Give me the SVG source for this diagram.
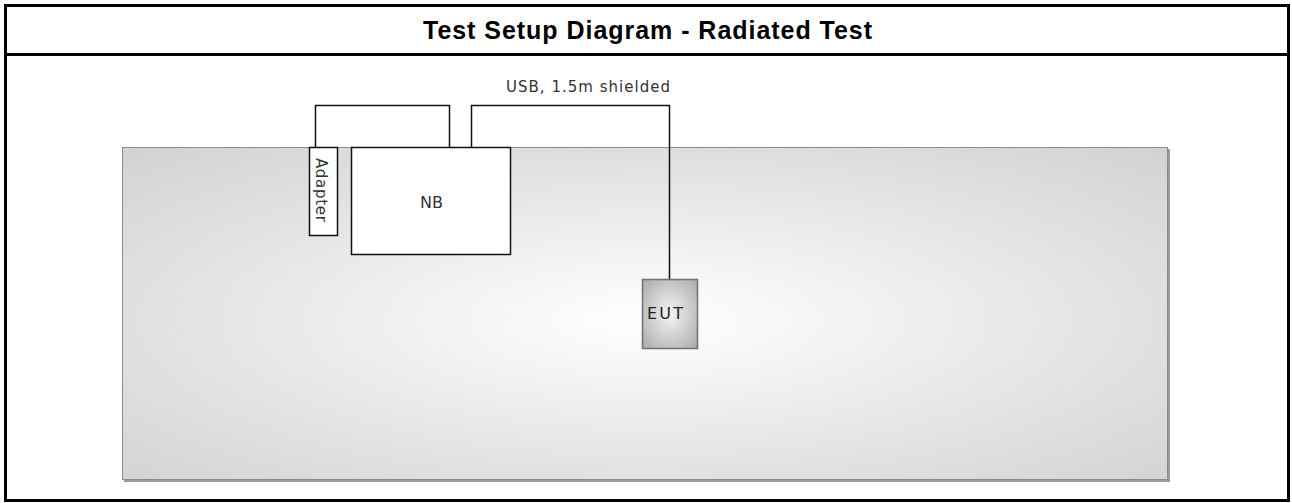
<svg xmlns="http://www.w3.org/2000/svg" width="1292" height="503" viewBox="0 0 1292 503">
<defs>
<radialGradient id="tableGrad" cx="0.5" cy="0.52" r="0.72">
<stop offset="0" stop-color="#ffffff"/>
<stop offset="0.68" stop-color="#e0e0e0"/>
<stop offset="1" stop-color="#d2d2d2"/>
</radialGradient>
<radialGradient id="eutGrad" cx="0.5" cy="0.5" r="0.7">
<stop offset="0" stop-color="#f4f4f4"/>
<stop offset="1" stop-color="#aaaaaa"/>
</radialGradient>
<style>
.frame{fill:none;stroke:#000;stroke-width:3}
.box{fill:#fff;stroke:#111;stroke-width:1.5}
.wire{fill:none;stroke:#111;stroke-width:1.5}
.lbl{font-family:"DejaVu Sans",Verdana,sans-serif;fill:#333}
.title{font-family:"Liberation Sans",Arial,sans-serif;font-size:25px;font-weight:bold;fill:#000}
</style>
</defs>
<rect x="0" y="0" width="1292" height="503" fill="#fff"/>
<g id="frame">
<rect class="frame" x="5.5" y="5.5" width="1283" height="495"/>
<line x1="5" y1="54.5" x2="1289" y2="54.5" stroke="#000" stroke-width="3"/>
<text class="title" x="423" y="38.5" textLength="449" lengthAdjust="spacing">Test Setup Diagram - Radiated Test</text>
</g>
<g id="table">
<rect x="124" y="149" width="1046" height="333" fill="#9a9a9a"/>
<rect x="122.5" y="147.5" width="1045" height="332" fill="url(#tableGrad)" stroke="#8a8a8a" stroke-width="1"/>
</g>
<g id="connectors">
<polyline class="wire" points="315.5,147 315.5,105.5 449.5,105.5 449.5,147"/>
<polyline class="wire" points="471.5,147 471.5,105.5 669.5,105.5 669.5,279"/>
<text class="lbl" x="506" y="92" style="font-size:15px" textLength="164" lengthAdjust="spacing">USB, 1.5m shielded</text>
</g>
<g id="adapter">
<rect class="box" x="309.5" y="147.5" width="28" height="88"/>
<text class="lbl" transform="translate(316,158) rotate(90)" style="font-size:15px" textLength="64" lengthAdjust="spacing">Adapter</text>
</g>
<g id="nb">
<rect class="box" x="351.5" y="147.5" width="159" height="107"/>
<text class="lbl" x="431.5" y="207.5" style="font-size:16px" text-anchor="middle">NB</text>
</g>
<g id="eut">
<rect x="642.5" y="279.5" width="55" height="69" fill="url(#eutGrad)" stroke="#707070" stroke-width="1.5"/>
<text class="lbl" x="647" y="318.5" style="font-size:16px;fill:#222" textLength="36" lengthAdjust="spacing">EUT</text>
</g>
</svg>
